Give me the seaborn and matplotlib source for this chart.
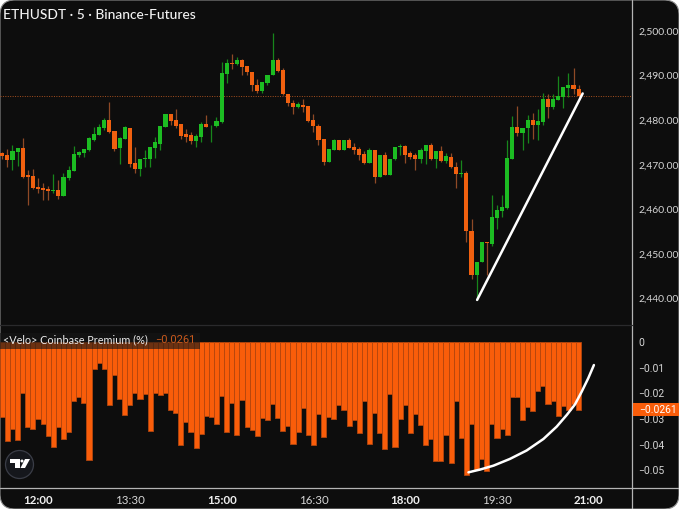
import numpy as np
import pandas as pd
import matplotlib
matplotlib.use("Agg")
import matplotlib.pyplot as plt
from matplotlib.patches import FancyBboxPatch, Rectangle, Circle, Polygon
from matplotlib.ticker import FuncFormatter
import seaborn as sns

# 5 min candles, index 0 is the 12:00 bar
first_bar = -7
opens = [2472.7,2472.2,2471.1,2472.9,2473.7,2467.7,2467.5,2465.0,2464.9,2464.6,2464.1,2464.4,2463.1,2467.0,2468.7,2472.1,2472.6,2473.3,2475.6,2476.7,2478.2,
         2480.0,2477.5,2473.7,2475.7,2478.3,2470.3,2469.1,2471.3,2471.3,2473.8,2474.7,2478.5,2481.4,2480.0,2479.2,2476.9,2476.6,2475.3,2476.2,2479.2,2478.6,2478.6,
         2479.6,2490.4,2492.8,2492.7,2493.5,2492.2,2490.8,2488.0,2486.5,2488.3,2490.1,2493.5,2491.3,2485.9,2483.9,2483.0,2483.5,2483.1,2480.0,2478.7,2475.7,
         2470.7,2473.4,2475.5,2473.3,2475.6,2473.9,2473.6,2472.4,2470.5,2473.3,2467.3,2472.2,2467.7,2471.3,2474.0,2474.2,2472.6,2472.1,2471.4,2473.2,2474.4,2471.4,2473.1,2470.9,
         2471.8,2469.4,2467.9,2468.2,2455.2,2445.4,2448.1,2452.7,2452.2,2458.1,2459.6,2460.4,2471.4,2478.4,2477.1,2478.2,2480.0,2478.9,2479.7,2484.7,2483.0,2484.5,2485.3,2487.2,2487.9,2487.1]
highs = [2472.9,2473.5,2474.4,2473.7,2476.0,2468.8,2469.0,2467.1,2466.0,2465.3,2467.9,2466.7,2468.1,2469.8,2474.3,2473.1,2473.5,2476.3,2478.4,2479.2,2480.4,
         2484.0,2477.5,2476.3,2478.7,2478.3,2473.9,2471.4,2473.3,2474.0,2476.3,2478.6,2481.4,2481.4,2482.5,2479.2,2478.1,2477.4,2476.8,2479.7,2481.2,2478.9,2480.8,
         2493.1,2493.7,2494.8,2494.2,2493.7,2492.2,2490.8,2489.2,2488.5,2490.1,2499.5,2493.9,2491.8,2485.9,2484.5,2484.0,2484.7,2483.1,2481.3,2479.2,2475.7,
         2473.5,2475.7,2475.5,2475.5,2476.1,2474.8,2474.1,2473.2,2473.8,2473.3,2472.2,2472.8,2471.4,2474.0,2474.6,2474.4,2473.1,2472.6,2473.7,2474.5,2474.8,2473.1,2474.3,2472.6,
         2472.7,2470.6,2471.1,2468.5,2457.8,2448.3,2452.7,2452.7,2463.2,2461.0,2463.2,2475.6,2480.9,2483.2,2478.3,2481.2,2481.7,2482.4,2486.0,2485.8,2485.8,2489.8,2487.4,2490.5,2491.6,2487.9]
lows = [2471.3,2469.4,2468.8,2469.8,2467.0,2461.0,2464.5,2463.6,2462.1,2462.1,2463.6,2462.3,2463.0,2466.6,2468.5,2471.8,2471.7,2473.2,2475.4,2476.7,2477.8,
        2477.1,2473.2,2470.2,2475.7,2469.6,2468.1,2467.6,2469.4,2469.4,2471.5,2473.3,2478.5,2478.9,2478.3,2475.7,2475.1,2474.6,2474.1,2475.1,2478.4,2475.2,2478.5,
        2479.3,2488.4,2491.5,2492.4,2490.1,2490.1,2486.6,2486.0,2486.0,2488.0,2490.1,2490.7,2485.7,2483.2,2481.5,2482.7,2481.9,2479.6,2477.4,2474.4,2470.0,
        2470.7,2473.3,2473.3,2473.3,2473.7,2472.4,2471.1,2470.2,2470.5,2466.0,2467.3,2467.8,2467.7,2471.1,2472.2,2470.3,2471.2,2468.8,2470.3,2470.2,2471.1,2469.2,2470.7,2470.5,
        2469.2,2464.7,2467.3,2452.8,2444.5,2439.7,2448.1,2445.3,2451.9,2455.5,2458.4,2460.2,2471.4,2476.5,2473.3,2474.8,2475.8,2475.6,2478.9,2480.4,2482.4,2484.5,2482.7,2485.1,2485.8,2485.1]
closes = [2472.0,2471.1,2473.1,2473.7,2467.3,2467.3,2464.7,2464.6,2464.4,2464.1,2464.4,2463.1,2467.2,2468.8,2472.4,2472.9,2473.5,2476.0,2476.9,2478.5,2480.0,
          2477.3,2473.6,2475.9,2478.4,2470.1,2469.1,2471.4,2471.5,2474.0,2475.0,2478.6,2481.4,2479.8,2478.7,2476.5,2476.2,2475.3,2476.5,2479.2,2478.4,2478.8,2479.8,
          2490.5,2492.8,2492.7,2493.4,2492.0,2490.7,2487.9,2486.5,2488.5,2490.1,2493.4,2491.1,2485.8,2483.8,2483.0,2483.6,2483.0,2479.8,2478.6,2475.6,2470.6,
          2473.5,2475.6,2473.3,2475.5,2473.7,2473.3,2472.3,2470.3,2473.3,2467.3,2472.2,2467.8,2471.4,2474.0,2474.2,2472.3,2471.7,2471.4,2473.3,2474.4,2471.3,2473.1,2470.9,2472.0,
          2469.4,2467.9,2468.2,2455.1,2445.4,2448.3,2452.7,2452.5,2458.2,2459.9,2460.5,2471.6,2478.4,2477.1,2478.3,2480.0,2478.9,2479.8,2484.7,2483.0,2484.7,2485.4,2487.4,2487.9,2486.9,2485.4]

# coinbase premium %, same bars
premium = [-.0294,-.0386,-.0340,-.0381,-.0200,-.0332,-.0339,-.0301,-.0321,-.0366,-.0409,-.0330,-.0378,-.0349,-.0232,-.0213,-.0236,-.0460,-.0105,-.0083,-.0106,
           -.0247,-.0129,-.0223,-.0286,-.0245,-.0197,-.0221,-.0201,-.0348,-.0200,-.0208,-.0200,-.0264,-.0277,-.0401,-.0312,-.0349,-.0412,-.0358,-.0288,-.0294,-.0319,
           -.0209,-.0351,-.0239,-.0361,-.0227,-.0330,-.0344,-.0365,-.0296,-.0304,-.0242,-.0296,-.0348,-.0327,-.0397,-.0349,-.0256,-.0364,-.0403,-.0279,-.0369,
           -.0292,-.0300,-.0245,-.0264,-.0329,-.0304,-.0356,-.0230,-.0396,-.0278,-.0353,-.0417,-.0204,-.0409,-.0300,-.0245,-.0356,-.0279,-.0325,-.0401,-.0378,-.0464,-.0462,-.0362,
           -.0473,-.0230,-.0375,-.0517,-.0319,-.0500,-.0457,-.0501,-.0319,-.0375,-.0339,-.0361,-.0216,-.0213,-.0304,-.0253,-.0269,-.0191,-.0171,-.0243,-.0232,-.0287,-.0251,-.0264,-.0242,-.0264]

last_price = 2485.4
price_ticks = [2440, 2450, 2460, 2470, 2480, 2490, 2500]
premium_ticks = [0, -0.01, -0.02, -0.03, -0.04, -0.05]
time_ticks = [0, 18, 36, 54, 72, 90, 108]
time_labels = ["12:00", "13:30", "15:00", "16:30", "18:00", "19:30", "21:00"]
time_bold = [True, False, True, False, True, False, True]

# hand drawn lines on the chart
trend_x = [86.1, 106.8]
trend_y = [2439.7, 2486.0]
curve_x = [84.4, 86.7, 89.3, 92.5, 95.8, 99.1, 101.7, 103.7, 105.3, 106.6, 107.9, 109.0]
curve_y = [-.0508, -.0497, -.0482, -.0456, -.0423, -.0378, -.0330, -.0284, -.0243, -.0194, -.0141, -.0090]

BG = "#0d0d0d"
GREEN = "#1cbc22"
GREEN_WICK = "#17861c"
ORANGE = "#f0600f"
ORANGE_WICK = "#8f4a26"
BAR = "#f95d0a"
BAR_EDGE = "#b3460e"
TXT = "#d6d6d6"

W, H = 679, 509

sns.set_theme(style="dark", rc={"axes.grid": False})
plt.rcParams["font.family"] = ["Lato", "DejaVu Sans"]

fig = plt.figure(figsize=(W / 100, H / 100), dpi=100, facecolor="white")


def px_axes(x0, y0, x1, y1):
    return fig.add_axes([x0 / W, 1 - y1 / H, (x1 - x0) / W, (y1 - y0) / H])


card = FancyBboxPatch((0, 0), W, H, boxstyle="round,pad=0,rounding_size=15",
                      transform=None, fc=BG, ec="#8a8a8a", lw=0.8, zorder=-5)
fig.add_artist(card)

ax = px_axes(0, 0, 632, 325)
ax2 = px_axes(0, 325, 632, 488)

df = pd.DataFrame({"bar": np.arange(len(opens)) + first_bar, "open": opens, "high": highs,
                   "low": lows, "close": closes, "premium": premium})
df["up"] = df["close"] >= df["open"]
df["body"] = df["close"] - df["open"]

for up, body_col, wick_col in [(True, GREEN, GREEN_WICK), (False, ORANGE, ORANGE_WICK)]:
    part = df[df["up"] == up]
    ax.vlines(part["bar"], part["low"], part["high"], color=wick_col, lw=0.9, zorder=2)
    sns.barplot(data=part, x="bar", y="body", bottom=part["open"].values, native_scale=True,
                width=0.8, color=body_col, saturation=1, errorbar=None, ax=ax, zorder=3,
                linewidth=0)

ax.axhline(last_price, color="#a8501f", lw=0.7, ls=(0, (1, 1.5)), zorder=1)
sns.lineplot(x=trend_x, y=trend_y, color="white", lw=1.8, ax=ax, sort=False, estimator=None, zorder=5)

sns.barplot(data=df, x="bar", y="premium", native_scale=True, width=1, color=BAR, saturation=1,
            errorbar=None, ax=ax2, edgecolor=BAR_EDGE, linewidth=0.6)
sns.lineplot(x=curve_x, y=curve_y, color="white", lw=1.8, ax=ax2, sort=False, estimator=None, zorder=5)

xlim = (-7.45, 116.47)
ax.set_xlim(xlim)
ax2.set_xlim(xlim)
ax.set_ylim(2434.08, 2506.95)
ax2.set_ylim(-0.0569, 0.0066)

for a in (ax, ax2):
    a.set_facecolor("none")
    a.set_xlabel("")
    a.set_ylabel("")
    a.yaxis.tick_right()
    a.tick_params(axis="y", length=0, pad=4.5, colors=TXT, labelsize=7.5)
    for s in a.spines.values():
        s.set_visible(False)

ax.set_xticks([])
ax.set_yticks(price_ticks)
ax.yaxis.set_major_formatter(FuncFormatter(lambda v, p: f"{v:,.2f}"))

ax2.set_yticks(premium_ticks)
ax2.set_yticklabels(["0" if v == 0 else f"\u2212{abs(v):.2f}" for v in premium_ticks])
for lab in ax2.get_yticklabels():
    lab.set_family(["Roboto", "DejaVu Sans"])
ax2.set_xticks(time_ticks)
ax2.set_xticklabels(time_labels)
ax2.tick_params(axis="x", length=0, pad=5, colors=TXT, labelsize=8.3)
for lab, b in zip(ax2.get_xticklabels(), time_bold):
    if b:
        lab.set_fontweight("bold")
        lab.set_color("#f0f0f0")

# panel separators
fig.add_artist(plt.Line2D([632 / W, 632 / W], [0, 1], color="#b4b4b4", lw=0.9, zorder=6))
fig.add_artist(plt.Line2D([0, 1], [1 - 488 / H, 1 - 488 / H], color="#b4b4b4", lw=0.9, zorder=6))
fig.add_artist(plt.Line2D([0, 632 / W], [1 - 325 / H, 1 - 325 / H], color="#2a2a2c", lw=0.9, zorder=6))

# legend strip + last value tag
fig.add_artist(Rectangle((0, 1 - 349 / H), 200 / W, 16 / H, transform=fig.transFigure,
                         fc="#161616", ec="none", alpha=0.62, zorder=7))
fig.add_artist(Rectangle((633 / W, 1 - 416 / H), 46 / W, 13 / H, transform=fig.transFigure,
                         fc=BAR, ec="none", zorder=7))
fig.text(3 / W, 1 - 15 / H, "ETHUSDT \u00b7 5 \u00b7 Binance-Futures", color="#f2f2f2", fontsize=9.9,
         fontweight="medium", va="center", ha="left", zorder=8)
fig.text(3 / W, 1 - 340 / H, "<Velo> Coinbase Premium (%)", color="#ececec", fontsize=7.8,
         va="center", ha="left", zorder=8)
fig.text(155 / W, 1 - 340 / H, "\u22120.0261", color="#c9591c", fontsize=7.9,
         family=["Roboto", "DejaVu Sans"], va="center", ha="left", zorder=8)
fig.text(639 / W, 1 - 410 / H, "\u22120.0261", color="white", fontsize=7.4,
         family=["Roboto", "DejaVu Sans"], va="center", ha="left", zorder=8)

# tradingview badge
fig.add_artist(Circle((19.5, H - 464.5), 14, transform=None, fc="#15171c", ec="#3a3d47", lw=0.9, zorder=8))
fig.add_artist(Polygon([(10, H - 459), (19.5, H - 459), (19.5, H - 468), (15, H - 468), (15, H - 462.5), (10, H - 462.5)],
                       transform=None, fc="white", ec="none", zorder=9))
fig.add_artist(Polygon([(25, H - 459), (30, H - 459), (25, H - 468), (20.5, H - 468)],
                       transform=None, fc="white", ec="none", zorder=9))
fig.add_artist(Circle((22, H - 461), 1.5, transform=None, fc="white", ec="none", zorder=9))

fig.savefig("out.png", dpi=100, facecolor="white")
